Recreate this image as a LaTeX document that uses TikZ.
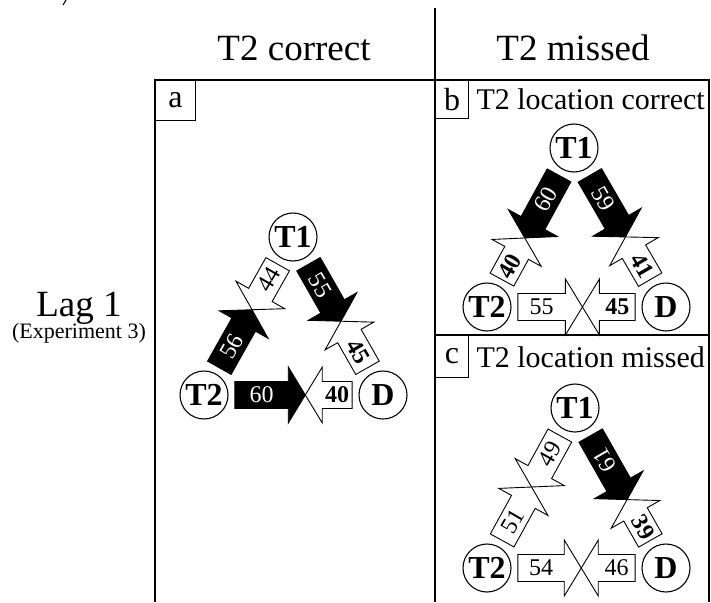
\documentclass[tikz,border=0pt]{standalone}
\usepackage{fontspec}
\setmainfont{Liberation Serif}
\usetikzlibrary{calc}

\newcommand\fsz[1]{\fontsize{#1}{#1}\selectfont}

\tikzset{
  frame/.style={line width=1.3pt},
  circ/.style={circle, draw, line width=1.1pt, minimum size=48pt, inner sep=0pt, font=\fsz{32}\bfseries},
  tagbox/.style={draw, line width=1.1pt, inner sep=0pt, font=\fsz{32}},
  whitearr/.style={draw=black, fill=white, line width=0.9pt},
  blackarr/.style={draw=black, fill=black, line width=0.9pt},
  numreg/.style={font=\fsz{24}, text=black, inner sep=0pt},
  numbold/.style={font=\fsz{24}\bfseries, text=black, inner sep=0pt},
  numinv/.style={font=\fsz{24}, text=white, inner sep=0pt},
}

% one block arrow: tail, tip, fill style, label style, label angle, label, name
\newcommand\blockarr[7]{%
  \coordinate (#7-t) at (#1);
  \coordinate (#7-p) at (#2);
  \coordinate (#7-h) at ($(#7-p)!17pt!(#7-t)$);
  \path[#3] ($(#7-t)!13.5pt!90:(#7-p)$) -- ($(#7-h)!13.5pt!-90:(#7-t)$)
    -- ($(#7-h)!28pt!-90:(#7-t)$) -- (#7-p) -- ($(#7-h)!28pt!90:(#7-t)$)
    -- ($(#7-h)!13.5pt!90:(#7-t)$) -- ($(#7-t)!13.5pt!-90:(#7-p)$) -- cycle;
  \node[#4, rotate=#5] (#7) at ($(#7-t)!0.5!(#7-h)$) {#6};
}

% two opposing arrows between circles #1 and #2; #3 percent for the arrow leaving #1
\newcommand\arrpair[9]{%
  \coordinate (#1#2s) at ($(#1)!0.1722!(#2)$);
  \coordinate (#1#2e) at ($(#1)!0.8278!(#2)$);
  \coordinate (#1#2m) at ($(#1)!{0.1722+#3*0.006556}!(#2)$);
  \blockarr{#1#2s}{#1#2m}{#4}{#5}{#6}{#3}{#1#2a}
  \blockarr{#1#2e}{#1#2m}{#7}{#8}{#9}{\the\numexpr100-#3\relax}{#1#2b}
}

\begin{document}
\begin{tikzpicture}[x=1pt, y=-1pt]
\useasboundingbox (0,0) rectangle (711,602);

% stray bracket at the top edge
\draw[line width=1.1pt] (66,0) -- (63,5);

% frame of the panels
\draw[frame] (435,8) -- (435,602);
\draw[frame] (155,602) -- (155,80) -- (709,80) -- (709,602);
\draw[frame] (435,335) -- (709,335);

% column headings
\node[font=\fsz{37}] (hcorrect) at (294,48) {T2 correct};
\node[font=\fsz{37}] (hmissed) at (573,48) {T2 missed};

% row heading
\node[font=\fsz{37}, anchor=base] (lag) at (79,316) {Lag 1};
\node[font=\fsz{22}, anchor=base] (expt) at (79,338) {(Experiment 3)};

% panel tags
\node[tagbox, anchor=north west, minimum width=40pt, minimum height=40pt] (tagA) at (155,80) {a};
\node[tagbox, anchor=north west, minimum width=33pt, minimum height=38pt] (tagB) at (435,80) {b};
\node[tagbox, anchor=north west, minimum width=33pt, minimum height=42pt] (tagC) at (435,335) {c};
\node[font=\fsz{30}, anchor=base west] (subB) at (473,109) {T2 location correct};
\node[font=\fsz{30}, anchor=base west] (subC) at (473,367) {T2 location missed};

% panel a
\node[circ] (aT1) at (293,237) {T1};
\node[circ] (aT2) at (204,395) {T2};
\node[circ] (aD)  at (383,395) {D};
\arrpair{aT2}{aT1}{56}{blackarr}{numinv}{60}{whitearr}{numreg}{60}
\arrpair{aT1}{aD}{55}{blackarr}{numinv}{-60}{whitearr}{numbold}{-60}
\arrpair{aT2}{aD}{60}{blackarr}{numinv}{0}{whitearr}{numbold}{0}

% panel b
\node[circ] (bT1) at (574,148) {T1};
\node[circ] (bT2) at (487,307) {T2};
\node[circ] (bD)  at (666,307) {D};
\arrpair{bT1}{bT2}{60}{blackarr}{numinv}{60}{whitearr}{numbold}{60}
\arrpair{bT1}{bD}{59}{blackarr}{numinv}{-60}{whitearr}{numbold}{-60}
\arrpair{bT2}{bD}{55}{whitearr}{numreg}{0}{whitearr}{numbold}{0}

% panel c
\node[circ] (cT1) at (575,408) {T1};
\node[circ] (cT2) at (487,568) {T2};
\node[circ] (cD)  at (666,568) {D};
\arrpair{cT1}{cT2}{49}{whitearr}{numreg}{60}{whitearr}{numreg}{60}
\arrpair{cT1}{cD}{61}{blackarr}{numinv}{120}{whitearr}{numbold}{-60}
\arrpair{cT2}{cD}{54}{whitearr}{numreg}{0}{whitearr}{numreg}{0}
\end{tikzpicture}
\end{document}
